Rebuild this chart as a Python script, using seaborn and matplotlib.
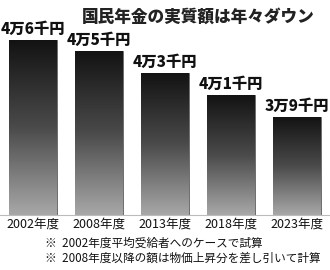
import matplotlib
matplotlib.use("Agg")
import matplotlib.pyplot as plt
import seaborn as sns
import numpy as np
import pandas as pd
from matplotlib.colors import LinearSegmentedColormap

years = ["2002年度", "2008年度", "2013年度", "2018年度", "2023年度"]
values = [46, 45, 43, 41, 39]  # 千円
value_labels = ["4万6千円", "4万5千円", "4万3千円", "4万1千円", "3万9千円"]
title = "国民年金の実質額は年々ダウン"
notes = ["※  2002年度平均受給者へのケースで試算",
         "※  2008年度以降の額は物価上昇分を差し引いて計算"]

sns.set_theme(style="white")
plt.rcParams['font.family'] = ['Noto Sans CJK JP', 'DejaVu Sans']

df = pd.DataFrame({"year": years, "value": values})

fig = plt.figure(figsize=(3.3, 2.7), dpi=100)
ax = fig.add_axes([0.0, 0.204, 1.0, 0.796])
sns.barplot(data=df, x="year", y="value", ax=ax, color="#555555", width=0.72,
            edgecolor="#666666", linewidth=0.6)
ax.set_ylim(30.1, 49.6)
ax.set_xlim(-0.5, 4.5)

cmap = LinearSegmentedColormap.from_list("g", ["#a8a8a8", "#4a4a4a", "#121212"])
grad = np.linspace(0, 1, 256).reshape(-1, 1)
for p in ax.patches:
    x0, y0 = p.get_x(), p.get_y()
    w, h = p.get_width(), p.get_height()
    y_bottom = ax.get_ylim()[0]
    im = ax.imshow(grad, cmap=cmap, aspect="auto", origin="lower",
                   extent=(x0, x0 + w, y_bottom, y0 + h), zorder=p.get_zorder() + 0.1)
    im.set_clip_path(p)

ax.bar_label(ax.containers[0], labels=value_labels, padding=2,
             fontsize=11, fontweight="heavy", color="#111111")

sns.despine(ax=ax, left=True, top=True, right=True)
ax.spines["bottom"].set_color("#bbbbbb")
ax.spines["bottom"].set_linewidth(0.8)
ax.set_yticks([])
ax.set_xlabel("")
ax.set_ylabel("")
ax.tick_params(axis="x", length=0, pad=2, labelsize=9, colors="#111111")

fig.text(198 / 330, 1 - 17 / 270, title, ha="center", va="center",
         fontsize=12, fontweight="heavy", color="#222222")
fig.text(45 / 330, 1 - 243 / 270, notes[0], ha="left", va="center",
         fontsize=8.4, color="#111111")
fig.text(45 / 330, 1 - 258 / 270, notes[1], ha="left", va="center",
         fontsize=8.4, color="#111111")

fig.savefig("out.png", dpi=100)
